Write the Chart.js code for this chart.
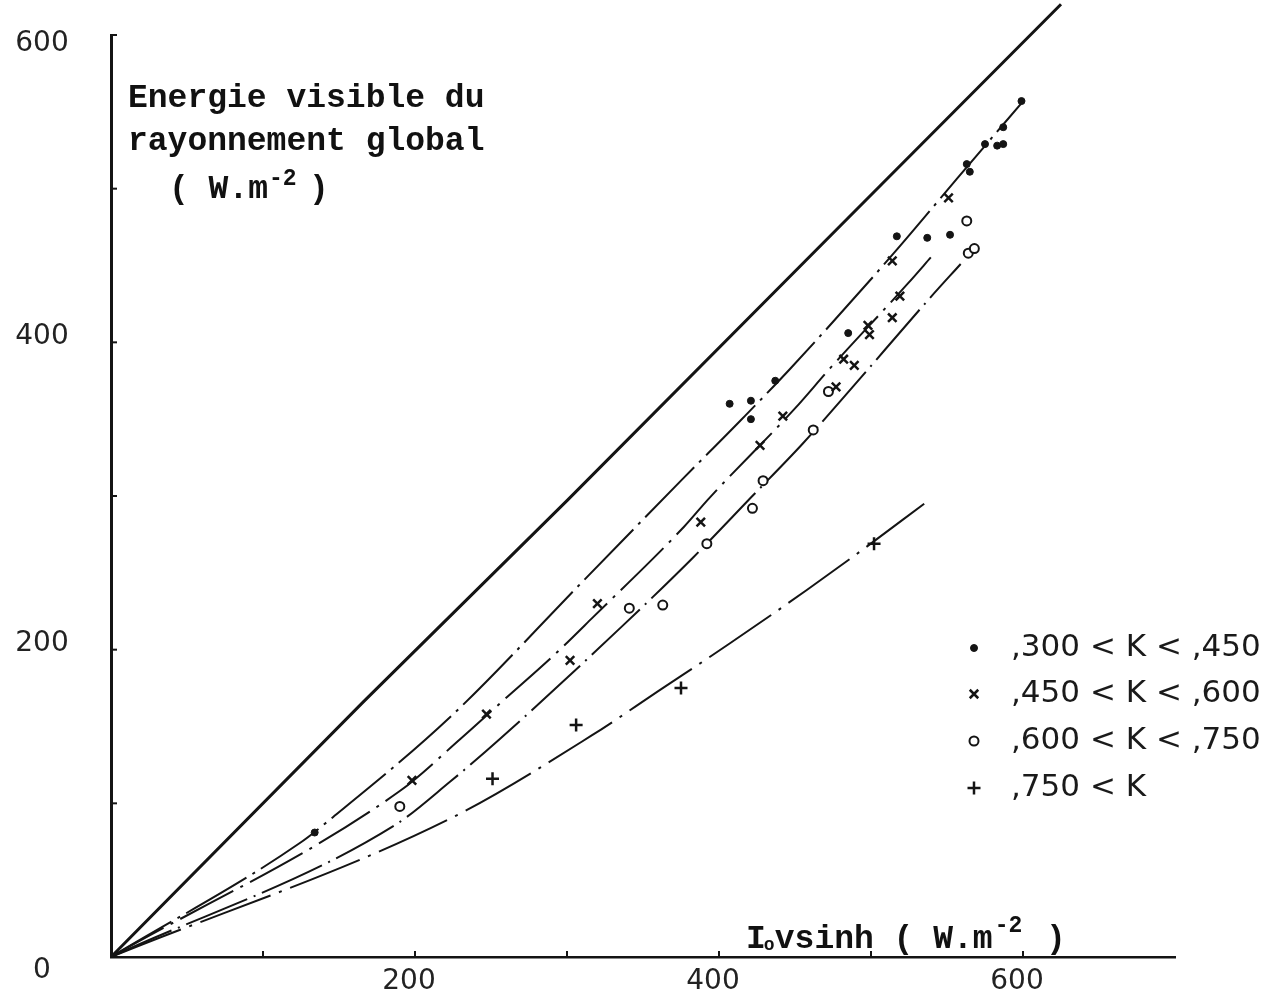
<!DOCTYPE html>
<html>
<head>
<meta charset="utf-8">
<script src="https://cdn.jsdelivr.net/npm/chart.js@4.4.1/dist/chart.umd.min.js"></script>
<style>
  html, body { margin: 0; padding: 0; background: #ffffff; }
  #wrap { width: 1282px; height: 999px; position: relative; }
  canvas { display: block; }
</style>
</head>
<body>
<div id="wrap"><canvas id="c" width="1282" height="999"></canvas></div>
<script>
// ---------- data ----------
const xTickLabels = [200, 400, 600];
const yTickLabels = [0, 200, 400, 600];
const xTickMarks = [0, 100, 200, 300, 400, 500, 600];
const yTickMarks = [100, 200, 300, 400, 500, 600];

const seriesNames = [',300 < K < ,450', ',450 < K < ,600', ',600 < K < ,750', ',750 < K'];

// reference (upper) line
const referenceLine = [[0, 0], [166, 166], [300, 297], [480, 476], [625, 620]];

// hand-drawn curves for each class
const curve300 = [[0, 0], [124, 74], [146, 91], [223, 156], [309, 243], [375, 310], [414, 349], [447, 383], [515, 458], [557, 507], [601, 558]];
const curve450 = [[0, 0], [190, 108], [230, 142], [257, 166], [291, 196], [317, 221], [377, 280], [393, 298], [450, 357], [473, 383], [524, 438], [540, 456]];
const curve600 = [[0, 0], [187, 86], [223, 114], [256, 142], [336, 215], [383, 260], [421, 299], [455, 334], [488, 371], [538, 428], [559, 451]];
const curve750 = [[0, 0], [223, 90], [316, 144], [360, 173], [407, 204], [458, 239], [493, 264], [535, 295]];

// observed points
const marks300 = [[134, 81], [407, 360], [421, 362], [437, 375], [421, 350], [485, 406], [517, 469], [537, 468], [552, 470], [563, 516], [565, 511], [575, 529], [583, 528], [587, 529], [587, 540], [599, 557]];
const marks450 = [[198, 115], [247, 158], [302, 193], [320, 230], [388, 283], [427, 333], [442, 352], [477, 371], [482, 389], [489, 385], [498, 411], [499, 405], [514, 416], [519, 430], [514, 453], [551, 494]];
const marks600 = [[190, 98], [341, 227], [363, 229], [392, 269], [422, 292], [429, 310], [462, 343], [472, 368], [563, 479], [564, 458], [568, 461]];
const marks750 = [[251, 116], [306, 151], [375, 175], [502, 269]];

// ---------- build ----------
const toXY = arr => arr.map(p => ({ x: p[0], y: p[1] }));
const INK = '#141414';

function curveDs(arr, dash) {
  return {
    data: toXY(arr), showLine: true, pointRadius: 0, borderColor: INK, borderWidth: 2,
    borderDash: dash, cubicInterpolationMode: 'monotone', fill: false, order: 2
  };
}
const markerStyles = [
  { pointStyle: 'circle', radius: 3.5, borderWidth: 1, fill: INK },
  { pointStyle: 'crossRot', radius: 6, borderWidth: 2.5, fill: INK },
  { pointStyle: 'circle', radius: 4.5, borderWidth: 2, fill: '#ffffff' },
  { pointStyle: 'cross', radius: 6.5, borderWidth: 2.5, fill: INK }
];
function markDs(arr, s) {
  return {
    data: toXY(arr), showLine: false, pointStyle: s.pointStyle, pointRadius: s.radius,
    pointBorderWidth: s.borderWidth, pointBackgroundColor: s.fill, pointBorderColor: INK, order: 1
  };
}

const datasets = [
  Object.assign(curveDs(referenceLine, []), { borderWidth: 3, clip: false, cubicInterpolationMode: 'default', tension: 0 }),
  curveDs(curve300, [70, 7, 3, 7]),
  curveDs(curve450, [60, 8, 3, 8]),
  curveDs(curve600, [66, 7, 2, 7]),
  curveDs(curve750, [75, 9, 3, 9]),
  markDs(marks300, markerStyles[0]),
  markDs(marks450, markerStyles[1]),
  markDs(marks600, markerStyles[2]),
  markDs(marks750, markerStyles[3])
];

const decor = {
  id: 'decor',
  afterDraw(chart) {
    const { ctx, chartArea: ca, scales: { x, y } } = chart;
    ctx.save();
    // inward tick marks
    ctx.strokeStyle = INK; ctx.lineWidth = 2;
    xTickMarks.forEach(v => {
      const px = x.getPixelForValue(v);
      ctx.beginPath(); ctx.moveTo(px, ca.bottom); ctx.lineTo(px, ca.bottom - 6); ctx.stroke();
    });
    yTickMarks.forEach(v => {
      const py = y.getPixelForValue(v);
      ctx.beginPath(); ctx.moveTo(ca.left, py); ctx.lineTo(ca.left + 6, py); ctx.stroke();
    });

    // tick labels
    ctx.fillStyle = '#222';
    ctx.font = '28px "DejaVu Sans"';
    ctx.textAlign = 'center'; ctx.textBaseline = 'middle';
    xTickLabels.forEach(v => ctx.fillText(String(v), x.getPixelForValue(v) - 6, ca.bottom + 25));
    yTickLabels.forEach(v => {
      const py = y.getPixelForValue(v);
      const dy = v === 600 ? 9 : (v === 0 ? 14 : -6);
      ctx.fillText(String(v), ca.left - 69, py + dy);
    });

    // axis titles (typewriter)
    const mono = 'bold 33px "Liberation Mono"';
    const monoSmall = 'bold 23px "Liberation Mono"';
    ctx.fillStyle = '#111';
    ctx.textAlign = 'left'; ctx.textBaseline = 'alphabetic';
    ctx.font = mono;
    ctx.fillText('Energie visible du', ca.left + 17, 107);
    ctx.fillText('rayonnement global', ca.left + 17, 150);
    ctx.fillText('( W.m', ca.left + 58, 198);
    ctx.font = monoSmall; ctx.fillText('-2', ca.left + 158, 185);
    ctx.font = mono; ctx.fillText(')', ca.left + 198, 198);

    // x title
    let tx = 746;
    ctx.font = mono; ctx.fillText('I', tx, 948); tx += ctx.measureText('I').width;
    ctx.font = 'bold 18px "Liberation Mono"'; ctx.fillText('o', tx - 2, 950); tx += 9;
    ctx.font = mono; ctx.fillText('vsinh ( W.m', tx, 948); tx += ctx.measureText('vsinh ( W.m').width;
    ctx.font = monoSmall; ctx.fillText('-2', tx + 2, 932);
    ctx.font = mono; ctx.fillText(')', 1046, 948);

    // legend
    const rowY = [648, 694, 741, 788];
    ctx.font = '31px "DejaVu Sans"';
    ctx.textBaseline = 'middle';
    seriesNames.forEach((name, i) => {
      const s = markerStyles[i];
      ctx.fillStyle = s.fill; ctx.strokeStyle = INK; ctx.lineWidth = s.borderWidth;
      Chart.helpers.drawPoint(ctx, { pointStyle: s.pointStyle, radius: s.radius, rotation: 0, borderWidth: s.borderWidth }, 974, rowY[i]);
      ctx.fillStyle = '#1a1a1a';
      ctx.fillText(name, 1011, rowY[i]);
    });
    ctx.restore();
  }
};

new Chart(document.getElementById('c').getContext('2d'), {
  type: 'scatter',
  data: { datasets },
  options: {
    responsive: false,
    animation: false,
    devicePixelRatio: 1,
    layout: { padding: { left: 111, right: 107, top: 35, bottom: 42 } },
    plugins: { legend: { display: false }, tooltip: { enabled: false }, title: { display: false } },
    scales: {
      x: {
        type: 'linear', min: 0, max: 700,
        ticks: { display: false },
        grid: { display: false, drawTicks: false },
        border: { display: true, width: 2.5, color: INK }
      },
      y: {
        type: 'linear', min: 0, max: 600,
        ticks: { display: false },
        grid: { display: false, drawTicks: false },
        border: { display: true, width: 3, color: INK }
      }
    }
  },
  plugins: [decor]
});
</script>
</body>
</html>
